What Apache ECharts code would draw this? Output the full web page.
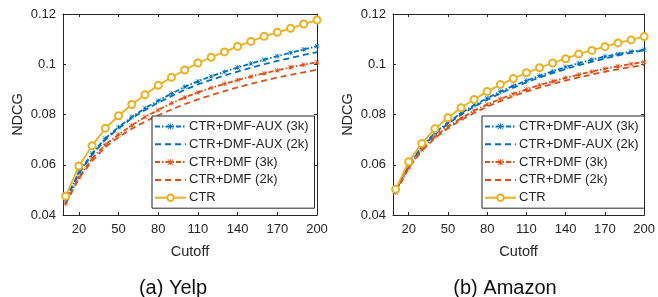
<!DOCTYPE html>
<html>
<head>
<meta charset="utf-8">
<script src="https://cdn.jsdelivr.net/npm/echarts@6/dist/echarts.min.js"></script>
<style>
  html, body { margin: 0; padding: 0; background: #fff; }
  #chart { width: 658px; height: 297px; }
</style>
</head>
<body>
<div id="chart"></div>
<script>
// cutoff values (x)
const cutoffs = [10, 20, 30, 40, 50, 60, 70, 80, 90, 100, 110, 120, 130, 140, 150, 160, 170, 180, 190, 200];
const xTicks = [20, 50, 80, 110, 140, 170, 200];
const seriesNames = ['CTR+DMF-AUX (3k)', 'CTR+DMF-AUX (2k)', 'CTR+DMF (3k)', 'CTR+DMF (2k)', 'CTR'];
const panelTitles = ['(a) Yelp', '(b) Amazon'];

// Yelp
const yelpAux3k = [0.046, 0.057, 0.0645, 0.0705, 0.075, 0.079, 0.0825, 0.0855, 0.0883, 0.091, 0.0932, 0.0952, 0.097, 0.0987, 0.1003, 0.1018, 0.1032, 0.1046, 0.1059, 0.1072];
const yelpAux2k = [0.046, 0.0565, 0.064, 0.070, 0.0745, 0.0785, 0.0818, 0.0847, 0.0873, 0.0898, 0.092, 0.0938, 0.0955, 0.0971, 0.0986, 0.1, 0.1013, 0.1025, 0.1037, 0.1048];
const yelpDmf3k = [0.0445, 0.055, 0.0625, 0.068, 0.072, 0.0757, 0.079, 0.0818, 0.0845, 0.0868, 0.0888, 0.0906, 0.0922, 0.0937, 0.0951, 0.0964, 0.0976, 0.0988, 0.0998, 0.1008];
const yelpDmf2k = [0.0445, 0.0545, 0.0615, 0.067, 0.071, 0.0743, 0.0772, 0.0797, 0.082, 0.0841, 0.086, 0.0877, 0.0893, 0.0908, 0.0922, 0.0935, 0.0947, 0.0958, 0.0968, 0.0978];
const yelpCtr = [0.0475, 0.0595, 0.0676, 0.0745, 0.0795, 0.084, 0.0879, 0.0916, 0.0948, 0.0977, 0.1005, 0.1028, 0.1049, 0.1071, 0.1091, 0.1111, 0.1127, 0.1143, 0.116, 0.1176];

// Amazon
const amzAux3k = [0.0495, 0.06, 0.0672, 0.0727, 0.0768, 0.0805, 0.0837, 0.0865, 0.0891, 0.0914, 0.0935, 0.0954, 0.0972, 0.0989, 0.1004, 0.1018, 0.1031, 0.1041, 0.105, 0.1058];
const amzAux2k = [0.0495, 0.0597, 0.0668, 0.0722, 0.0763, 0.0799, 0.0831, 0.0859, 0.0884, 0.0907, 0.0928, 0.0947, 0.0965, 0.0981, 0.0996, 0.101, 0.1023, 0.1035, 0.1046, 0.1055];
const amzDmf3k = [0.049, 0.059, 0.066, 0.0712, 0.0752, 0.0785, 0.0815, 0.084, 0.0862, 0.0882, 0.09, 0.0917, 0.0932, 0.0946, 0.0959, 0.0971, 0.0982, 0.0992, 0.1001, 0.1009];
const amzDmf2k = [0.049, 0.0587, 0.0655, 0.0706, 0.0745, 0.0778, 0.0806, 0.0831, 0.0853, 0.0873, 0.0891, 0.0907, 0.0922, 0.0935, 0.0948, 0.0959, 0.097, 0.098, 0.0989, 0.0997];
const amzCtr = [0.0502, 0.0612, 0.0685, 0.0743, 0.0787, 0.0827, 0.086, 0.0892, 0.0919, 0.0943, 0.0966, 0.0986, 0.1005, 0.1022, 0.1041, 0.1055, 0.107, 0.1085, 0.1097, 0.111];

const panels = [
    [yelpAux3k, yelpAux2k, yelpDmf3k, yelpDmf2k, yelpCtr],
    [amzAux3k, amzAux2k, amzDmf3k, amzDmf2k, amzCtr]
];

const chart = echarts.init(document.getElementById('chart'));
const font = 'Liberation Sans, Arial, sans-serif';
const axisColor = '#262626';
const BLUE = '#0072BD', RED = '#D95319', YEL = '#EDB120';
// MATLAB-like '*' marker
const STAR = 'path://M4.4,0H5.6V4.4H10V5.6H5.6V10H4.4V5.6H0V4.4H4.4Z M1,0.2L9.8,9L9,9.8L0.2,1Z M9,0.2L9.8,1L1,9.8L0.2,9Z';

const grids = [
    { left: 63, right: 341, top: 14, bottom: 82 },
    { left: 393, right: 11, top: 14, bottom: 82 }
];
const captionX = [173, 505];

const styles = [
    { color: BLUE, type: [5, 2, 1.5, 2], symbol: STAR, size: 5 },
    { color: BLUE, type: [6, 4], symbol: 'none', size: 0 },
    { color: RED, type: [5, 2, 1.5, 2], symbol: STAR, size: 5 },
    { color: RED, type: [6, 4], symbol: 'none', size: 0 },
    { color: YEL, type: 'solid', symbol: 'emptyCircle', size: 7 }
];

const xAxes = [], yAxes = [], series = [], legends = [], captions = [];
grids.forEach((g, p) => {
    xAxes.push({
        gridIndex: p, type: 'value', min: 8, max: 200,
        name: 'Cutoff', nameLocation: 'middle', nameGap: 29,
        nameTextStyle: { fontFamily: font, fontSize: 14.5, color: axisColor },
        axisLine: { onZero: false, lineStyle: { color: axisColor } },
        axisTick: { inside: true, length: 3, customValues: xTicks, lineStyle: { color: axisColor } },
        axisLabel: { customValues: xTicks, fontFamily: font, fontSize: 13, color: axisColor, margin: 8 },
        splitLine: { show: false }
    });
    xAxes.push({
        gridIndex: p, type: 'value', min: 8, max: 200, position: 'top',
        axisLine: { onZero: false, lineStyle: { color: axisColor } },
        axisTick: { inside: true, length: 3, customValues: xTicks, lineStyle: { color: axisColor } },
        axisLabel: { show: false }, splitLine: { show: false }
    });
    yAxes.push({
        gridIndex: p, type: 'value', min: 0.04, max: 0.12, interval: 0.02,
        name: 'NDCG', nameLocation: 'middle', nameGap: 38,
        nameTextStyle: { fontFamily: font, fontSize: 14.5, color: axisColor },
        axisLine: { show: true, onZero: false, lineStyle: { color: axisColor } },
        axisTick: { show: true, inside: true, length: 3, lineStyle: { color: axisColor } },
        axisLabel: { fontFamily: font, fontSize: 13, color: axisColor, margin: 7 },
        splitLine: { show: false }
    });
    yAxes.push({
        gridIndex: p, type: 'value', min: 0.04, max: 0.12, interval: 0.02, position: 'right',
        axisLine: { show: true, onZero: false, lineStyle: { color: axisColor } },
        axisTick: { show: true, inside: true, length: 3, lineStyle: { color: axisColor } },
        axisLabel: { show: false }, splitLine: { show: false }
    });
    panels[p].forEach((vals, i) => {
        const s = styles[i];
        series.push({
            name: seriesNames[i], type: 'line',
            xAxisIndex: p * 2, yAxisIndex: p * 2,
            data: cutoffs.map((c, k) => [c, vals[k]]),
            symbol: s.symbol, symbolSize: s.size, showSymbol: s.symbol !== 'none',
            lineStyle: { color: s.color, width: 1.8, type: s.type },
            itemStyle: { color: s.color, borderColor: s.color, borderWidth: s.symbol === 'emptyCircle' ? 1.5 : 0 },
            z: i === 4 ? 3 : 2,
            animation: false
        });
    });
    legends.push({
        // dashed-only entries: hide the default dot in the legend icon
        data: seriesNames.map((n, i) => styles[i].symbol === 'none'
            ? { name: n, itemStyle: { opacity: 0 } }
            : { name: n }),
        orient: 'vertical',
        left: g.left + 89, top: 116,
        itemWidth: 31, itemHeight: 8, itemGap: 4.8,
        padding: [4, 6, 4, 2],
        backgroundColor: '#fff', borderColor: axisColor, borderWidth: 1,
        textStyle: { fontFamily: font, fontSize: 13, color: axisColor, padding: [0, 0, 0, -2] },
        selectedMode: false
    });
    captions.push({
        type: 'text', x: captionX[p], y: 288,
        style: { text: panelTitles[p], font: '20px ' + font, fill: '#111', align: 'center', verticalAlign: 'middle' }
    });
});

chart.setOption({
    animation: false,
    backgroundColor: '#fff',
    grid: grids,
    xAxis: xAxes,
    yAxis: yAxes,
    legend: legends,
    series: series,
    graphic: captions
});

window.addEventListener('resize', () => chart.resize());
</script>
</body>
</html>
